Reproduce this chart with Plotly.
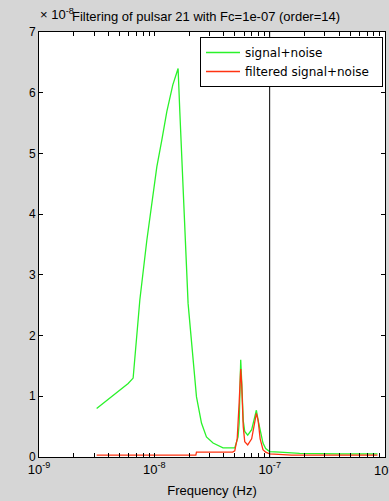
import plotly.graph_objects as go

# Frequencies (Hz) and amplitudes (x 1e-8)
green_f = [3.16e-9, 5.93e-9, 6.55e-9, 7.49e-9, 8.61e-9, 9.9e-9, 1.051e-8, 1.161e-8, 1.283e-8,
           1.446e-8, 1.607e-8, 1.663e-8, 1.741e-8, 1.80e-8, 1.862e-8, 1.962e-8, 2.058e-8,
           2.168e-8, 2.32e-8, 2.563e-8, 2.83e-8, 3.23e-8, 3.94e-8, 4.98e-8, 5.32e-8, 5.44e-8,
           5.61e-8, 5.72e-8, 5.90e-8, 6.08e-8, 6.45e-8, 6.98e-8, 7.41e-8, 7.67e-8, 7.95e-8,
           8.27e-8, 8.75e-8, 9.23e-8, 1e-7, 1.221e-7, 1.55e-7, 1.818e-7, 4.04e-7, 8.61e-7]
green_v = [0.80, 1.21, 1.30, 2.59, 3.57, 4.43, 4.78, 5.22, 5.69,
           6.13, 6.40, 5.69, 4.73, 4.18, 3.36, 2.53, 2.09,
           1.55, 0.99, 0.56, 0.33, 0.23, 0.15, 0.15, 0.33, 0.56,
           1.60, 1.25, 0.60, 0.42, 0.36, 0.45, 0.65, 0.77, 0.60,
           0.45, 0.23, 0.14, 0.09, 0.08, 0.07, 0.06, 0.05, 0.05]

red_f = [3.16e-9, 2.29e-8, 2.32e-8, 4.78e-8, 4.98e-8, 5.23e-8, 5.44e-8, 5.61e-8, 5.72e-8,
         5.90e-8, 6.08e-8, 6.45e-8, 6.98e-8, 7.41e-8, 7.67e-8, 7.95e-8, 8.27e-8, 8.75e-8,
         9.23e-8, 1e-7, 1.221e-7, 1.55e-7, 4.04e-7, 8.61e-7]
red_v = [0.03, 0.03, 0.08, 0.08, 0.10, 0.30, 0.90, 1.45, 1.20,
         0.50, 0.25, 0.20, 0.30, 0.60, 0.72, 0.60, 0.30, 0.12,
         0.08, 0.05, 0.04, 0.03, 0.03, 0.03]

cutoff = 1e-7
y_ticks = [0, 1, 2, 3, 4, 5, 6, 7]
x_major = [1e-9, 1e-8, 1e-7, 1e-6]
x_major_text = ["10<sup>-9</sup>", "10<sup>-8</sup>", "10<sup>-7</sup>", "10<sup>-6</sup>"]

xt_vals, xt_text = [], []
for i, d in enumerate(x_major):
    xt_vals.append(d)
    xt_text.append(x_major_text[i] if i < len(x_major) - 1 else "")
    if i < len(x_major) - 1:
        for m in range(2, 10):
            xt_vals.append(d * m)
            xt_text.append("")

fam = "Liberation Sans, Arial, sans-serif"
font = dict(family=fam, size=12, color="black")

fig = go.Figure()
fig.add_trace(go.Scatter(x=green_f, y=green_v, mode="lines", name="signal+noise",
                         line=dict(color="#2af22a", width=1.3)))
fig.add_trace(go.Scatter(x=red_f, y=red_v, mode="lines",
                         name="filtered signal+noise\u00a0\u00a0",
                         line=dict(color="#ff3311", width=1.3)))

fig.add_shape(type="line", x0=cutoff, x1=cutoff, xref="x", y0=0, y1=1, yref="paper",
              line=dict(color="black", width=1), layer="above")

L, R, T, B = 39, 385, 32, 457
W, H = R - L, B - T


def px(x):
    return (x - L) / W


def py(y):
    return (B - y) / H


fig.update_layout(
    width=389, height=501,
    margin=dict(l=L, r=389 - R, t=T, b=501 - B),
    paper_bgcolor="#d6d6d6", plot_bgcolor="white",
    font=font,
    showlegend=True,
    legend=dict(x=px(200), y=py(37), xanchor="left", yanchor="top",
                bgcolor="white", bordercolor="black", borderwidth=1,
                font=dict(family="DejaVu Sans, sans-serif", size=12),
                tracegroupgap=0, itemwidth=34),
    xaxis=dict(type="log", range=[-9, -6], tickvals=xt_vals, ticktext=xt_text,
               ticks="inside", ticklen=4, tickcolor="black", showgrid=False,
               showline=True, linecolor="black", linewidth=1, mirror="ticks",
               zeroline=False, tickfont=dict(size=13),
               title=dict(text="Frequency (Hz)", font=dict(size=13), standoff=10)),
    yaxis=dict(range=[0, 7], tickvals=y_ticks, ticks="inside", ticklen=4, tickcolor="black",
               showgrid=False, showline=True, linecolor="black", linewidth=1,
               mirror="ticks", zeroline=False, tickfont=dict(size=12)),
    annotations=[
        dict(text="Filtering of pulsar 21 with Fc=1e-07 (order=14)", x=px(206), xref="paper",
             xanchor="center", y=py(16), yref="paper", yanchor="middle", showarrow=False,
             font=dict(size=13)),
        dict(text="× 10<sup>-8</sup>", x=px(38), xref="paper", xanchor="left", y=py(14),
             yref="paper", yanchor="middle", showarrow=False, font=dict(size=13)),
        dict(text="10<sup>-6</sup>", x=1, xref="paper", xanchor="center", y=py(470),
             yref="paper", yanchor="middle", showarrow=False, font=dict(size=13)),
    ],
)

fig.write_html("out.html")
